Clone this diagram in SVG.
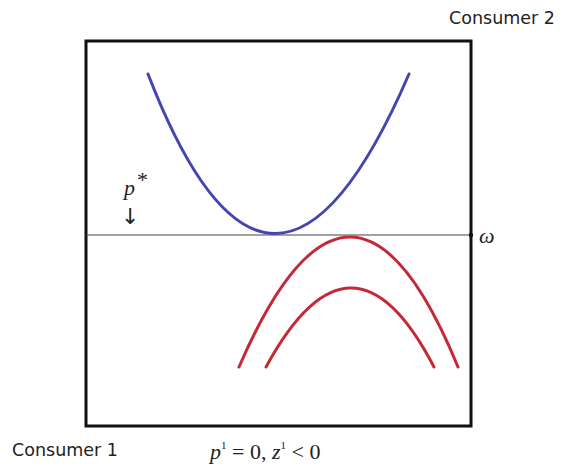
<svg xmlns="http://www.w3.org/2000/svg" width="566" height="468" viewBox="0 0 566 468">
<style>
.lbl{font-family:"DejaVu Sans",Verdana,sans-serif;font-size:17.5px;fill:#222}
.math{font-family:"Liberation Serif","Times New Roman",serif;font-size:22px;fill:#222}
.it{font-style:italic}
.curve{fill:none;stroke-width:3;stroke-linecap:round}
</style>
<rect x="0" y="0" width="566" height="468" fill="#fff"/>
<g id="frame">
<rect x="86" y="41" width="385" height="385" fill="none" stroke="#111" stroke-width="3"/>
</g>
<g id="axis">
<line x1="86" y1="235" x2="471" y2="235" stroke="#444" stroke-width="1.2"/>
<circle cx="471" cy="235" r="2.2" fill="#111"/>
</g>
<g id="consumer2-curve">
<path class="curve" stroke="#4545b0" d="M148,74 Q271.5,393 409,74"/>
</g>
<g id="consumer1-curves">
<path class="curve" stroke="#c42a36" d="M239,367 Q351.5,107 458,367"/>
<path class="curve" stroke="#c42a36" d="M266,367 Q352,209 434,367"/>
</g>
<g id="labels">
<text class="lbl" x="449" y="24">Consumer 2</text>
<text class="lbl" x="12" y="456">Consumer 1</text>
<text class="math it" x="124" y="195" font-size="23">p</text>
<text class="math" x="137" y="187" font-size="9">*</text>
<text x="121" y="224" font-family="DejaVu Sans,sans-serif" font-size="22" fill="#222">↓</text>
<text class="math it" x="479" y="243" font-size="21">ω</text>
<text class="math" x="210" y="459"><tspan class="it">p</tspan><tspan font-size="11" dy="-10">1</tspan><tspan dy="10"> = 0, </tspan><tspan class="it">z</tspan><tspan font-size="11" dy="-10">1</tspan><tspan dy="10"> &lt; 0</tspan></text>
</g>
</svg>
